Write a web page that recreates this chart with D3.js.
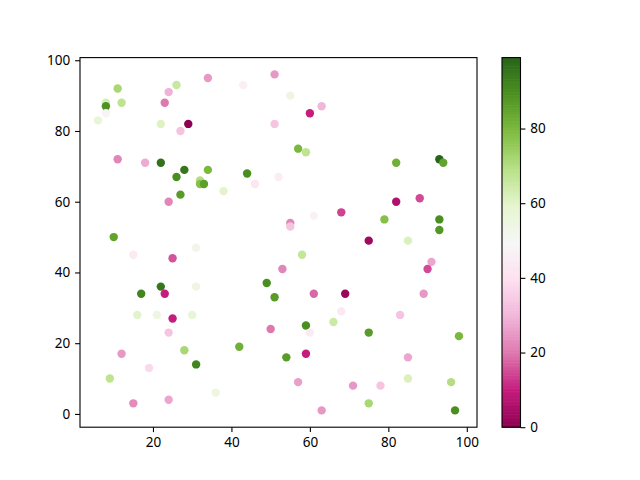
<!DOCTYPE html>
<html>
<head>
<meta charset="utf-8">
<script src="https://cdn.jsdelivr.net/npm/d3@7"></script>
<style>
  body { margin: 0; background: #fff; }
  svg text { font-family: "Noto Sans", "DejaVu Sans", sans-serif; font-size: 13.5px; fill: #000; }
</style>
</head>
<body>
<svg id="chart" width="640" height="480"></svg>
<script>
// point positions and colour values
const xs = [11,26,34,43,51,24,8,8,12,8,6,23,22,29,27,51,11,18,22,28,26,34,32,32,33,27,24,38,44,46,52,10,
  55,63,60,57,59,82,93,94,88,82,68,61,55,55,79,93,93,75,85,
  15,31,25,17,22,23,31,16,21,30,25,24,28,12,31,19,9,36,15,24,42,49,51,50,53,
  58,61,69,68,66,59,60,75,83,89,91,90,98,54,59,85,57,71,78,85,96,75,63,97];
const ys = [92,93,95,93,96,91,88,87,88,85,83,88,82,82,80,82,72,71,71,69,67,69,66,65,65,62,60,63,68,65,67,50,
  90,87,85,75,74,71,72,71,61,60,57,56,54,53,55,55,52,49,49,
  45,47,44,34,36,34,36,28,28,28,27,23,18,17,14,13,10,6,3,4,19,37,33,24,41,
  45,34,34,29,26,25,23,23,28,34,43,41,22,16,17,16,9,8,8,10,9,3,1,1];
const cs = [72,66,25,46,25,29,63,89,68,48,58,20,61,0,33,33,22,28,96,95,90,80,70,78,86,87,22,60,90,42,45,85,
  55,30,10,80,68,82,99,85,15,6,14,47,22,33,78,90,88,3,62,
  44,53,16,92,95,10,55,60,55,58,10,33,72,25,92,38,68,55,23,27,82,90,87,20,22,
  67,18,2,43,65,90,44,87,33,25,27,15,80,87,10,27,26,25,33,62,70,72,25,90];
const cbTicks = [0, 20, 40, 60, 80];
const piyg = ["#8e0152","#c51b7d","#de77ae","#f1b6da","#fde0ef","#f7f7f7","#e6f5d0","#b8e186","#7fbc41","#4d9221","#276419"];

const svg = d3.select("#chart");
const ax = { left: 80, right: 477, top: 57.6, bottom: 427.2 };
const cb = { left: 502, right: 520.5, top: 57.6, bottom: 427.2 };
const tick = 4.9, pad = 4.9;

function padded(vals) {
  const [lo, hi] = d3.extent(vals);
  const m = (hi - lo) * 0.05;
  return [lo - m, hi + m];
}

const x = d3.scaleLinear().domain(padded(xs)).range([ax.left, ax.right]);
const y = d3.scaleLinear().domain(padded(ys)).range([ax.bottom, ax.top]);

const cExt = d3.extent(cs);
const color = d3.scaleLinear()
  .domain(piyg.map((d, i) => cExt[0] + (cExt[1] - cExt[0]) * i / (piyg.length - 1)))
  .range(piyg)
  .interpolate(d3.interpolateRgb);

// points
svg.append("g").selectAll("circle")
  .data(d3.range(xs.length))
  .join("circle")
  .attr("cx", i => x(xs[i]))
  .attr("cy", i => y(ys[i]))
  .attr("r", 4.2)
  .attr("fill", i => color(cs[i]));

// axes
const xAxis = svg.append("g")
  .attr("transform", `translate(0,${ax.bottom})`)
  .call(d3.axisBottom(x).tickValues([20, 40, 60, 80, 100]).tickSize(tick).tickPadding(pad));
const yAxis = svg.append("g")
  .attr("transform", `translate(${ax.left},0)`)
  .call(d3.axisLeft(y).tickValues([0, 20, 40, 60, 80, 100]).tickSize(tick).tickPadding(pad));
[xAxis, yAxis].forEach(g => {
  g.select(".domain").remove();
  g.attr("font-size", null).attr("font-family", null);
  g.selectAll("line").attr("stroke", "#000").attr("stroke-width", 1.1);
});

svg.append("rect")
  .attr("x", ax.left).attr("y", ax.top)
  .attr("width", ax.right - ax.left).attr("height", ax.bottom - ax.top)
  .attr("fill", "none").attr("stroke", "#000").attr("stroke-width", 1.1);

// colorbar
const cy = d3.scaleLinear().domain(cExt).range([cb.bottom, cb.top]);
const steps = d3.range(0, 256);
svg.append("g").selectAll("rect")
  .data(steps)
  .join("rect")
  .attr("x", cb.left)
  .attr("width", cb.right - cb.left)
  .attr("y", i => cy(cExt[0] + (cExt[1] - cExt[0]) * (i + 1) / 256))
  .attr("height", (cb.bottom - cb.top) / 256 + 0.6)
  .attr("fill", i => color(cExt[0] + (cExt[1] - cExt[0]) * (i + 0.5) / 256));

svg.append("rect")
  .attr("x", cb.left).attr("y", cb.top)
  .attr("width", cb.right - cb.left).attr("height", cb.bottom - cb.top)
  .attr("fill", "none").attr("stroke", "#000").attr("stroke-width", 1.1);

const cAxis = svg.append("g")
  .attr("transform", `translate(${cb.right},0)`)
  .call(d3.axisRight(cy).tickValues(cbTicks).tickSize(tick).tickPadding(pad));
cAxis.select(".domain").remove();
cAxis.attr("font-size", null).attr("font-family", null);
cAxis.selectAll("line").attr("stroke", "#000").attr("stroke-width", 1.1);
</script>
</body>
</html>
